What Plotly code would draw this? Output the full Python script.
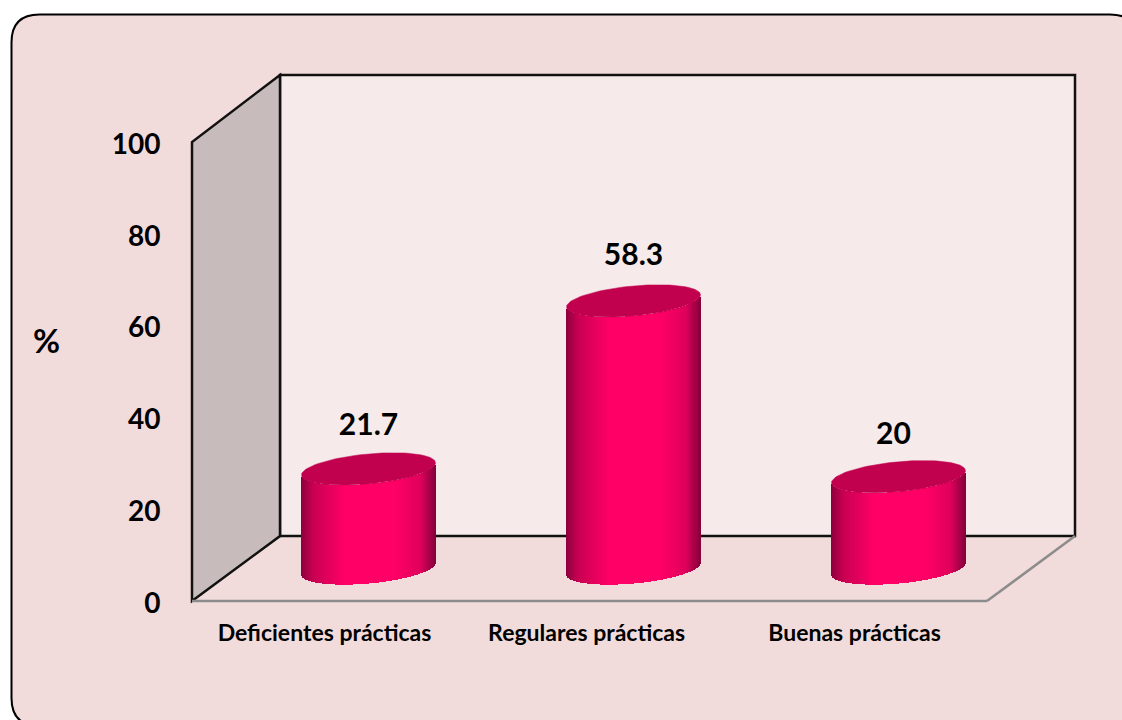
import numpy as np
import plotly.graph_objects as go

categories = ["Deficientes prácticas", "Regulares prácticas", "Buenas prácticas"]
values = [21.7, 58.3, 20]
value_labels = ["21.7", "58.3", "20"]
y_ticks = [0, 20, 40, 60, 80, 100]
x_tick_positions = [0, -0.011, 0]

# chart geometry, in axis units
PX_X, PX_Y = 265.0, 4.59          # pixels per category / per percent
DX, DY = 88 / PX_X, 65 / PX_Y     # 3D depth offset
DY_TOP = 67 / PX_Y
HALF_W, ELL_B, ELL_TILT = 67 / PX_X, 15 / PX_Y, 6 / PX_Y
STRIPS = 134
# small hand offsets of the value labels, in pixels (x, y)
label_dx = [0, 0, -5]
label_dy = [-4, -2, -6]

L, R, T, B = 186, 1082, 50, 606
xr = [(L - 192) / PX_X - 0.5, (R - 192) / PX_X - 0.5]
yr = [(601 - B) / PX_Y, (601 - T) / PX_Y]

def paper(px, py):
    return (px - L) / (R - L), (B - py) / (B - T)

def shade(u):
    stops = [(-1, (140, 0, 60)), (-0.82, (200, 0, 82)), (-0.35, (255, 0, 102)), (0.4, (255, 0, 102)),
             (0.78, (224, 0, 92)), (1, (135, 0, 58))]
    xs = [s[0] for s in stops]
    c = [round(float(np.interp(u, xs, [s[1][i] for s in stops]))) for i in range(3)]
    return f"rgb({c[0]},{c[1]},{c[2]})"

fig = go.Figure()

u = (np.arange(STRIPS) + 0.5) / STRIPS * 2 - 1
cols = [shade(v) for v in u]
for i, val in enumerate(values):
    cx = i + DX / 2
    cy = DY / 2
    fig.add_trace(go.Bar(
        x=cx + u * HALF_W,
        base=cy + u * ELL_TILT - ELL_B * np.sqrt(1 - u ** 2),
        y=[val] * STRIPS,
        width=1.3 * 2 * HALF_W / STRIPS,
        marker=dict(color=cols, line=dict(width=0)),
        hoverinfo="skip", showlegend=False,
    ))
    t = np.linspace(0, 2 * np.pi, 120)
    fig.add_trace(go.Scatter(
        x=cx + HALF_W * np.cos(t),
        y=cy + val + ELL_TILT * np.cos(t) + ELL_B * np.sin(t),
        fill="toself", fillcolor="#c1004e", mode="lines",
        line=dict(color="#c1004e", width=0.5),
        hoverinfo="skip", showlegend=False,
    ))

fig.add_trace(go.Scatter(
    x=[i + DX / 2 + label_dx[i] / PX_X for i in range(len(values))],
    y=[v + DY / 2 + 10 + label_dy[i] / PX_Y for i, v in enumerate(values)],
    mode="text", text=value_labels, textposition="middle center",
    textfont=dict(family="Lato", size=30, color="black", weight=700),
    hoverinfo="skip", showlegend=False,
))

x0, x1 = -0.5, 2.5
top = 100
def poly(pts):
    return "M" + " L".join(f"{a},{b}" for a, b in pts) + " Z"

shapes = [
    dict(type="path", xref="paper", yref="paper", layer="below",
         fillcolor="#f2dcdb", line=dict(color="black", width=2),
         path=(lambda p: "M{} L{} Q{} {} L{} Q{} {} L{} Q{} {} L{} Q{} {} Z".format(*[f"{a},{b}" for a, b in p]))(
             [paper(11.5, 42.5), paper(11.5, 698), paper(11.5, 726), paper(39.5, 726),
              paper(1110, 726), paper(1138, 726), paper(1138, 698), paper(1138, 42.5),
              paper(1138, 14.5), paper(1110, 14.5), paper(39.5, 14.5), paper(11.5, 14.5), paper(11.5, 42.5)])),
    dict(type="path", layer="below", fillcolor="#f6ebea", line=dict(color="#111111", width=2.5),
         path=poly([(x0 + DX, DY), (x1 + DX, DY), (x1 + DX, top + DY_TOP), (x0 + DX, top + DY_TOP)])),
    dict(type="path", layer="below", fillcolor="#c7bcbb", line=dict(color="#111111", width=2.5),
         path=poly([(x0, 0), (x0 + DX, DY), (x0 + DX, top + DY_TOP), (x0, top)])),
    dict(type="line", layer="below", x0=x0, y0=0, x1=x1, y1=0, line=dict(color="#8c8c8c", width=2.5)),
    dict(type="line", layer="below", x0=x1, y0=0, x1=x1 + DX, y1=DY, line=dict(color="#8c8c8c", width=2.5)),
]

fig.update_layout(
    width=1122, height=720, autosize=False,
    margin=dict(l=L, r=1122 - R, t=T, b=720 - B, pad=0),
    paper_bgcolor="white", plot_bgcolor="rgba(0,0,0,0)",
    barmode="overlay", bargap=0, showlegend=False,
    font=dict(family="Lato", color="black"),
    shapes=shapes,
    xaxis=dict(range=xr, tickmode="array", tickvals=x_tick_positions[:1] + [1 + x_tick_positions[1], 2], ticktext=categories,
               showgrid=False, zeroline=False, showline=False,
               ticks="outside", ticklen=6, tickwidth=1, tickcolor="rgba(0,0,0,0)",
               tickfont=dict(family="Lato", size=23, color="black", weight=700)),
    yaxis=dict(range=yr, tickmode="array", tickvals=y_ticks,
               showgrid=False, zeroline=False, showline=False,
               ticks="outside", ticklen=19, tickwidth=1, tickcolor="rgba(0,0,0,0)",
               ticklabelshift=2,
               tickfont=dict(family="Lato", size=28, color="black", weight=700)),
    annotations=[dict(text="%", xref="paper", yref="paper",
                      x=paper(46, 340)[0], y=paper(46, 340)[1], showarrow=False,
                      xanchor="center", yanchor="middle",
                      font=dict(family="Lato", size=33, color="black", weight=700))],
)

fig.write_html("out.html", config={"displayModeBar": False}, post_script="document.body.style.margin='0';")
